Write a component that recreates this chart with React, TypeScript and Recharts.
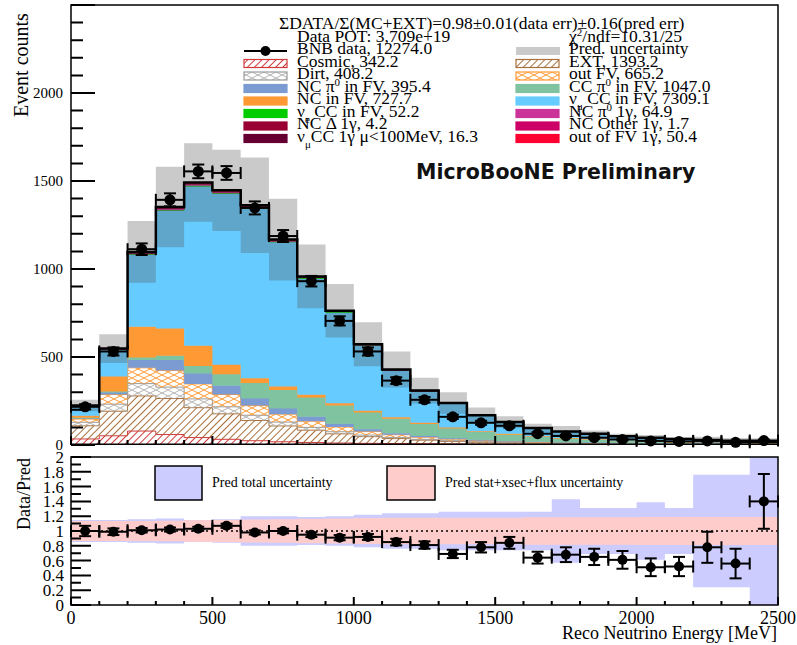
import React from "react"
import {
  Area,
  ComposedChart,
  ErrorBar,
  Line,
  ReferenceArea,
  ReferenceLine,
  Scatter,
  XAxis,
  YAxis,
} from "recharts"

// bin edges (MeV), also the minor x ticks
const binEdges = [
  0, 100, 200, 300, 400, 500, 600, 700, 800, 900, 1000, 1100, 1200, 1300,
  1400, 1500, 1600, 1700, 1800, 1900, 2000, 2100, 2200, 2300, 2400, 2500,
]
const binCenters = [
  50, 150, 250, 350, 450, 550, 650, 750, 850, 950, 1050, 1150, 1250, 1350,
  1450, 1550, 1650, 1750, 1850, 1950, 2050, 2150, 2250, 2350, 2450,
]
const energyLabels = [0, 500, 1000, 1500, 2000, 2500]
const countTicks = [
  0, 100, 200, 300, 400, 500, 600, 700, 800, 900, 1000, 1100, 1200, 1300,
  1400, 1500, 1600, 1700, 1800, 1900, 2000, 2100, 2200, 2300, 2400, 2500,
]
const countLabels = [0, 500, 1000, 1500, 2000]
const ratioMinor = [
  0, 0.1, 0.2, 0.3, 0.4, 0.5, 0.6, 0.7, 0.8, 0.9, 1, 1.1, 1.2, 1.3, 1.4, 1.5,
  1.6, 1.7, 1.8, 1.9, 2,
]
const ratioLabels = [0, 0.2, 0.4, 0.6, 0.8, 1, 1.2, 1.4, 1.6, 1.8, 2]

// stacked prediction, bottom to top
const cosmic = [30, 48, 75, 55, 38, 28, 20, 14, 10, 7, 5, 4, 3, 2, 1, 1, 1, 0.5, 0.5, 0.3, 0.3, 0.2, 0.2, 0.2, 0.2]
const ext = [75, 140, 200, 205, 170, 145, 115, 90, 70, 52, 38, 28, 20, 14, 10, 7, 5, 4, 3, 2, 1.5, 1, 1, 1, 1]
const dirt = [20, 40, 70, 65, 50, 40, 30, 22, 16, 12, 9, 7, 5, 4, 3, 3, 2, 2, 2, 1, 1, 1, 1, 1, 1]
const outFV = [18, 55, 90, 95, 85, 70, 55, 45, 35, 27, 20, 15, 12, 9, 7, 5, 4, 3, 3, 2, 2, 1, 1, 1, 0.5]
const ncPi0 = [5, 12, 45, 60, 60, 50, 40, 32, 25, 18, 13, 9, 7, 5, 4, 3, 2, 2, 1, 1, 0.5, 0.5, 0.5, 0.5, 0.5]
const ccPi0 = [2, 5, 13, 23, 42, 65, 88, 106, 110, 105, 96, 82, 68, 55, 44, 35, 27, 21, 16, 12, 9, 7, 5, 4, 3]
const ncFV = [12, 85, 175, 155, 115, 55, 28, 20, 15, 12, 10, 8, 7, 6, 5, 5, 4, 3, 3, 2, 2, 2, 1, 1, 1]
const numuCC = [56, 153, 411, 671, 907, 971, 965, 820, 661, 516, 370, 265, 177, 135, 88, 64, 45, 35, 30, 24, 20, 17, 14, 11, 7]
const nueCC = [0.5, 1, 2, 3, 4, 4, 4, 4, 4, 4, 3, 3, 3, 2.5, 2, 2, 1.5, 1.5, 1, 1, 1, 0.5, 0.5, 0.5, 0.5]
const ncPi01g = [1, 3, 7, 9, 9, 8, 7, 5, 4, 3, 2.5, 2, 1.5, 1, 0.7, 0.5, 0.3, 0.2, 0.1, 0.1, 0, 0, 0, 0, 0]
const ncDelta1g = [0, 0.1, 0.4, 0.6, 0.7, 0.6, 0.5, 0.4, 0.3, 0.2, 0.15, 0.1, 0.05, 0.05, 0, 0, 0, 0, 0, 0, 0, 0, 0, 0, 0]
const ncOther1g = [0, 0.05, 0.15, 0.2, 0.25, 0.25, 0.2, 0.15, 0.15, 0.1, 0.1, 0.05, 0.05, 0, 0, 0, 0, 0, 0, 0, 0, 0, 0, 0, 0]
const numuCC1g = [0.2, 0.5, 1.2, 1.8, 2, 2, 1.8, 1.6, 1.3, 1, 0.8, 0.6, 0.5, 0.4, 0.3, 0.2, 0.1, 0, 0, 0, 0, 0, 0, 0, 0]
const outFV1g = [0.5, 2, 5, 6.5, 7, 6.5, 5.5, 4.5, 3.5, 2.7, 2, 1.5, 1.1, 0.8, 0.5, 0.3, 0.2, 0.1, 0.1, 0, 0, 0, 0, 0, 0]

// BNB data
const bnbData = [213, 528, 1110, 1391, 1553, 1544, 1345, 1185, 928, 702, 528, 362, 253, 156, 122, 105, 60, 47, 37, 27, 19, 16, 19, 11, 21]
const bnbErr = [15, 23, 33, 37, 39, 39, 37, 34, 30, 26, 23, 19, 16, 12, 11, 10, 8, 7, 6, 5, 4, 4, 4, 3, 5]

// fractional uncertainties
const predErrFrac = [0.15, 0.15, 0.16, 0.17, 0.15, 0.16, 0.2, 0.2, 0.19, 0.2, 0.22, 0.24, 0.24, 0.26, 0.26, 0.26, 0.26, 0.43, 0.31, 0.31, 0.39, 0.31, 0.76, 0.76, 1.3]
const statErrFrac = [0.135, 0.135, 0.135, 0.14, 0.145, 0.15, 0.155, 0.16, 0.165, 0.17, 0.175, 0.18, 0.18, 0.18, 0.18, 0.18, 0.185, 0.185, 0.185, 0.185, 0.19, 0.19, 0.19, 0.19, 0.19]

// data / prediction
const ratio = [1.0, 0.99, 1.01, 1.02, 1.03, 1.07, 0.98, 1.0, 0.95, 0.91, 0.92, 0.85, 0.81, 0.69, 0.78, 0.84, 0.64, 0.68, 0.65, 0.61, 0.51, 0.52, 0.78, 0.56, 1.4]
const ratioErr = [0.07, 0.045, 0.03, 0.027, 0.027, 0.028, 0.028, 0.03, 0.032, 0.035, 0.04, 0.045, 0.05, 0.056, 0.07, 0.08, 0.08, 0.1, 0.11, 0.12, 0.12, 0.13, 0.21, 0.2, 0.37]

const stack = [
  { key: "cosmic", values: cosmic, fill: "url(#hCosmic)", stroke: "#d03a3a" },
  { key: "ext", values: ext, fill: "url(#hExt)", stroke: "#a8703c" },
  { key: "dirt", values: dirt, fill: "url(#hDirt)", stroke: "#9a9a9a" },
  { key: "outFV", values: outFV, fill: "url(#hOutFV)", stroke: "#ff9933" },
  { key: "ncPi0", values: ncPi0, fill: "#7b9bd2", stroke: "#7b9bd2" },
  { key: "ccPi0", values: ccPi0, fill: "#80c3a0", stroke: "#80c3a0" },
  { key: "ncFV", values: ncFV, fill: "#ff9933", stroke: "#ff9933" },
  { key: "numuCC", values: numuCC, fill: "#66ccff", stroke: "#66ccff" },
  { key: "nueCC", values: nueCC, fill: "#00cc00", stroke: "#00cc00" },
  { key: "ncPi01g", values: ncPi01g, fill: "#cc3399", stroke: "#cc3399" },
  { key: "ncDelta1g", values: ncDelta1g, fill: "#990033", stroke: "#990033" },
  { key: "ncOther1g", values: ncOther1g, fill: "#cc0066", stroke: "#cc0066" },
  { key: "numuCC1g", values: numuCC1g, fill: "#660033", stroke: "#660033" },
  { key: "outFV1g", values: outFV1g, fill: "#ff0033", stroke: "#ff0033" },
]

// one row per bin edge; the last edge repeats the last bin so the steps close
const rows = binEdges.map((x, i) => {
  const j = Math.min(i, binCenters.length - 1)
  const r: any = { x }
  let total = 0
  stack.forEach((s) => {
    r[s.key] = s.values[j]
    total += s.values[j]
  })
  r.total = total
  r.band = [total * (1 - predErrFrac[j]), total * (1 + predErrFrac[j])]
  r.totBand = [1 - predErrFrac[j], 1 + predErrFrac[j]]
  r.statBand = [1 - statErrFrac[j], 1 + statErrFrac[j]]
  return r
})

const dataPoints = binCenters.map((x, i) => ({ x, y: bnbData[i], ex: 50, ey: bnbErr[i] }))
const ratioPoints = binCenters.map((x, i) => ({ x, y: ratio[i], ex: 50, ey: ratioErr[i] }))

const serif = "'Liberation Serif', 'Times New Roman', serif"
const bandFill = "#505050"
const bandOpacity = 0.3

// frame geometry shared by the two panels (page px)
const plotLeft = 71
const plotW = 707
const topY0 = 5
const topH = 440
const ratioTop = 440
const ratioY0 = 457
const ratioH = 148

const Dot = (p: any) => <circle cx={p.cx} cy={p.cy} r={5.5} fill="#000" />
const SmallDot = (p: any) => <circle cx={p.cx} cy={p.cy} r={5} fill="#000" />

function Patterns() {
  return (
    <svg width={0} height={0} style={{ position: "absolute" }}>
      <defs>
        <pattern id="hCosmic" width={5} height={5} patternUnits="userSpaceOnUse" patternTransform="rotate(45)">
          <line x1={2.5} y1={0} x2={2.5} y2={5} stroke="#d03a3a" strokeWidth={1} />
        </pattern>
        <pattern id="hExt" width={5} height={5} patternUnits="userSpaceOnUse" patternTransform="rotate(45)">
          <line x1={2.5} y1={0} x2={2.5} y2={5} stroke="#a8703c" strokeWidth={1} />
        </pattern>
        <pattern id="hDirt" width={12} height={6} patternUnits="userSpaceOnUse">
          <path d="M0,0 L12,6 M0,6 L12,0" stroke="#b4b4b4" strokeWidth={1} fill="none" />
        </pattern>
        <pattern id="hOutFV" width={12} height={6} patternUnits="userSpaceOnUse">
          <path d="M0,0 L12,6 M0,6 L12,0" stroke="#ff9933" strokeWidth={1} fill="none" />
        </pattern>
      </defs>
    </svg>
  )
}

function MainPanel() {
  return (
    <ComposedChart width={797} height={460} data={rows} margin={{ top: topY0, right: 797 - plotLeft - plotW, bottom: 460 - topY0 - topH, left: 0 }}>
      <XAxis type="number" dataKey="x" domain={[0, 2500]} hide />
      <YAxis
        type="number"
        domain={[0, 2500]}
        ticks={countLabels}
        interval={0}
        width={plotLeft}
        tickSize={0}
        tickMargin={8}
        axisLine={false}
        tickLine={false}
        tick={{ fontSize: 15, fontFamily: serif, fill: "#000" }}
      />
      {stack.map((s) => (
        <Area
          key={s.key}
          type="stepAfter"
          dataKey={s.key}
          stackId="pred"
          fill={s.fill}
          fillOpacity={1}
          stroke={s.stroke}
          strokeWidth={1}
          isAnimationActive={false}
        />
      ))}
      <Area type="stepAfter" dataKey="band" fill={bandFill} fillOpacity={bandOpacity} stroke="none" isAnimationActive={false} />
      <Line type="stepAfter" dataKey="total" stroke="#000" strokeWidth={2.5} dot={false} isAnimationActive={false} />
      <Scatter data={dataPoints} dataKey="y" shape={Dot} isAnimationActive={false}>
        <ErrorBar dataKey="ex" direction="x" width={6} stroke="#000" strokeWidth={2} />
        <ErrorBar dataKey="ey" direction="y" width={6} stroke="#000" strokeWidth={2} />
      </Scatter>
      <ReferenceArea x1={0} x2={2500} y1={0} y2={2500} fill="none" stroke="#000" strokeWidth={1.5} />
    </ComposedChart>
  )
}

function RatioPanel() {
  return (
    <ComposedChart width={797} height={205} data={rows} margin={{ top: ratioY0 - ratioTop, right: 797 - plotLeft - plotW, bottom: 0, left: 0 }}>
      <XAxis
        type="number"
        dataKey="x"
        domain={[0, 2500]}
        ticks={energyLabels}
        interval={0}
        height={205 - (ratioY0 - ratioTop) - ratioH}
        tickSize={0}
        tickMargin={6}
        axisLine={false}
        tickLine={false}
        tick={{ fontSize: 18, fontFamily: serif, fill: "#000" }}
      />
      <YAxis
        type="number"
        domain={[0, 2]}
        allowDataOverflow
        ticks={ratioLabels}
        interval={0}
        width={plotLeft}
        tickSize={0}
        tickMargin={7}
        axisLine={false}
        tickLine={false}
        tick={{ fontSize: 17, fontFamily: serif, fill: "#000" }}
      />
      <Area type="stepAfter" dataKey="totBand" fill="#ccccff" fillOpacity={1} stroke="none" isAnimationActive={false} />
      <Area type="stepAfter" dataKey="statBand" fill="#ffcccc" fillOpacity={1} stroke="none" isAnimationActive={false} />
      <ReferenceLine y={1} stroke="#000" strokeWidth={1.5} strokeDasharray="2 3" />
      <Scatter data={ratioPoints} dataKey="y" shape={SmallDot} isAnimationActive={false}>
        <ErrorBar dataKey="ex" direction="x" width={6} stroke="#000" strokeWidth={2} />
        <ErrorBar dataKey="ey" direction="y" width={6} stroke="#000" strokeWidth={2} />
      </Scatter>
      <ReferenceArea x1={0} x2={2500} y1={0} y2={2} fill="none" stroke="#000" strokeWidth={1.5} />
    </ComposedChart>
  )
}

// ROOT style ticks pointing into the frames
function FrameTicks() {
  const ex = (v: number) => plotLeft + (v / 2500) * plotW
  const cy = (v: number) => topY0 + topH - (v / 2500) * topH
  const ry = (v: number) => ratioY0 + ratioH - (v / 2) * ratioH
  const topBottom = topY0 + topH
  const ratioBottom = ratioY0 + ratioH
  const segs: { k: string; x1: number; y1: number; x2: number; y2: number }[] = []
  countTicks.forEach((v) => {
    const len = v % 500 === 0 ? 24 : 12
    segs.push({ k: "c" + v, x1: plotLeft, y1: cy(v), x2: plotLeft + len, y2: cy(v) })
  })
  binEdges.forEach((v) => {
    const len = v % 500 === 0 ? 9 : 5
    segs.push({ k: "t" + v, x1: ex(v), y1: topBottom, x2: ex(v), y2: topBottom - len })
  })
  ratioMinor.forEach((v) => {
    const len = Math.round(v * 10) % 2 === 0 ? 20 : 10
    segs.push({ k: "r" + v, x1: plotLeft, y1: ry(v), x2: plotLeft + len, y2: ry(v) })
  })
  binEdges.forEach((v) => {
    const len = v % 500 === 0 ? 8 : 4
    segs.push({ k: "b" + v, x1: ex(v), y1: ratioBottom, x2: ex(v), y2: ratioBottom - len })
  })
  const d = segs.map((s) => `M${s.x1},${s.y1}L${s.x2},${s.y2}`).join("")
  return <path d={d} stroke="#000" strokeWidth={2} fill="none" />
}

const legendRows = [51, 63.5, 76, 88.5, 101, 113.5, 126, 138.5]

function Swatch({ x, y, fill, stroke }: { x: number; y: number; fill: string; stroke?: string }) {
  return <rect x={x} y={y - 4} width={43} height={8} fill={fill} stroke={stroke ?? fill} strokeWidth={1.2} />
}

function Overlay() {
  const lx = 244
  const rx = 516
  const tl = 297
  const tr = 569
  const fs = 17.5
  const b = (i: number) => legendRows[i] + 3.2
  return (
    <svg width={797} height={645} style={{ position: "absolute", left: 0, top: 0, pointerEvents: "none" }} fontFamily={serif}>
      <text x={279} y={28.5} fontSize={fs}>ΣDATA/Σ(MC+EXT)=0.98±0.01(data err)±0.16(pred err)</text>
      <text x={tl} y={41.5} fontSize={fs}>Data POT: 3,709e+19</text>
      <text x={tr} y={41.5} fontSize={fs}>
        χ<tspan baselineShift="super" fontSize={11}>2</tspan>/ndf=10.31/25
      </text>

      {/* left column */}
      <line x1={lx} x2={lx + 43} y1={legendRows[0]} y2={legendRows[0]} stroke="#000" strokeWidth={2} />
      <circle cx={lx + 21.5} cy={legendRows[0]} r={5} fill="#000" />
      <Swatch x={lx} y={legendRows[1]} fill="url(#hCosmic)" stroke="#d03a3a" />
      <Swatch x={lx} y={legendRows[2]} fill="url(#hDirt)" stroke="#9a9a9a" />
      <Swatch x={lx} y={legendRows[3]} fill="#7b9bd2" />
      <Swatch x={lx} y={legendRows[4]} fill="#ff9933" />
      <Swatch x={lx} y={legendRows[5]} fill="#00cc00" />
      <Swatch x={lx} y={legendRows[6]} fill="#990033" />
      <Swatch x={lx} y={legendRows[7]} fill="#660033" />
      <g fontSize={fs}>
        <text x={tl} y={b(0)}>BNB data, 12274.0</text>
        <text x={tl} y={b(1)}>Cosmic, 342.2</text>
        <text x={tl} y={b(2)}>Dirt, 408.2</text>
        <text x={tl} y={b(3)}>
          NC π<tspan baselineShift="super" fontSize={11}>0</tspan> in FV,  395.4
        </text>
        <text x={tl} y={b(4)}>NC in FV, 727.7</text>
        <text x={tl} y={b(5)}>
          ν<tspan baselineShift="sub" fontSize={11}>e</tspan> CC in FV, 52.2
        </text>
        <text x={tl} y={b(6)}>NC Δ 1γ, 4.2</text>
        <text x={tl} y={b(7)}>
          ν<tspan baselineShift="sub" fontSize={11}>μ</tspan>CC 1γ μ&lt;100MeV, 16.3
        </text>
      </g>

      {/* right column */}
      <rect x={rx} y={legendRows[0] - 4} width={44} height={8} fill={bandFill} fillOpacity={bandOpacity} />
      <Swatch x={rx} y={legendRows[1]} fill="url(#hExt)" stroke="#a8703c" />
      <Swatch x={rx} y={legendRows[2]} fill="url(#hOutFV)" stroke="#ff9933" />
      <Swatch x={rx} y={legendRows[3]} fill="#80c3a0" />
      <Swatch x={rx} y={legendRows[4]} fill="#66ccff" />
      <Swatch x={rx} y={legendRows[5]} fill="#cc3399" />
      <Swatch x={rx} y={legendRows[6]} fill="#cc0066" />
      <Swatch x={rx} y={legendRows[7]} fill="#ff0033" />
      <g fontSize={fs}>
        <text x={tr} y={b(0)}>Pred. uncertainty</text>
        <text x={tr} y={b(1)}>EXT, 1393.2</text>
        <text x={tr} y={b(2)}>out FV, 665.2</text>
        <text x={tr} y={b(3)}>
          CC π<tspan baselineShift="super" fontSize={11}>0</tspan> in FV, 1047.0
        </text>
        <text x={tr} y={b(4)}>
          ν<tspan baselineShift="sub" fontSize={11}>μ</tspan> CC in FV, 7309.1
        </text>
        <text x={tr} y={b(5)}>
          NC π<tspan baselineShift="super" fontSize={11}>0</tspan> 1γ, 64.9
        </text>
        <text x={tr} y={b(6)}>NC Other 1γ, 1.7</text>
        <text x={tr} y={b(7)}>out of FV 1γ, 50.4</text>
      </g>

      <text x={416} y={178.5} fontSize={20.5} fontWeight="bold" fontFamily="'DejaVu Sans', sans-serif" fill="#111">
        MicroBooNE Preliminary
      </text>

      <text transform="translate(28,117) rotate(-90)" fontSize={20}>Event counts</text>
      <text transform="translate(30,530) rotate(-90)" fontSize={18}>Data/Pred</text>
      <text x={777} y={639} textAnchor="end" fontSize={18}>Reco Neutrino Energy [MeV]</text>

      {/* ratio panel legend */}
      <rect x={155} y={466} width={47} height={34} fill="#ccccff" stroke="#000" strokeWidth={1.5} />
      <text x={212} y={486.5} fontSize={14}>Pred total uncertainty</text>
      <rect x={387} y={466} width={48} height={34} fill="#ffcccc" stroke="#000" strokeWidth={1.5} />
      <text x={445} y={486.5} fontSize={14}>Pred stat+xsec+flux uncertainty</text>

      <FrameTicks />
    </svg>
  )
}

export default function App() {
  return (
    <div style={{ position: "absolute", left: 0, top: 0, width: 797, height: 645, background: "#fff", fontFamily: serif }}>
      <Patterns />
      <div style={{ position: "absolute", left: 0, top: 0 }}>
        <MainPanel />
      </div>
      <div style={{ position: "absolute", left: 0, top: ratioTop }}>
        <RatioPanel />
      </div>
      <Overlay />
    </div>
  )
}
